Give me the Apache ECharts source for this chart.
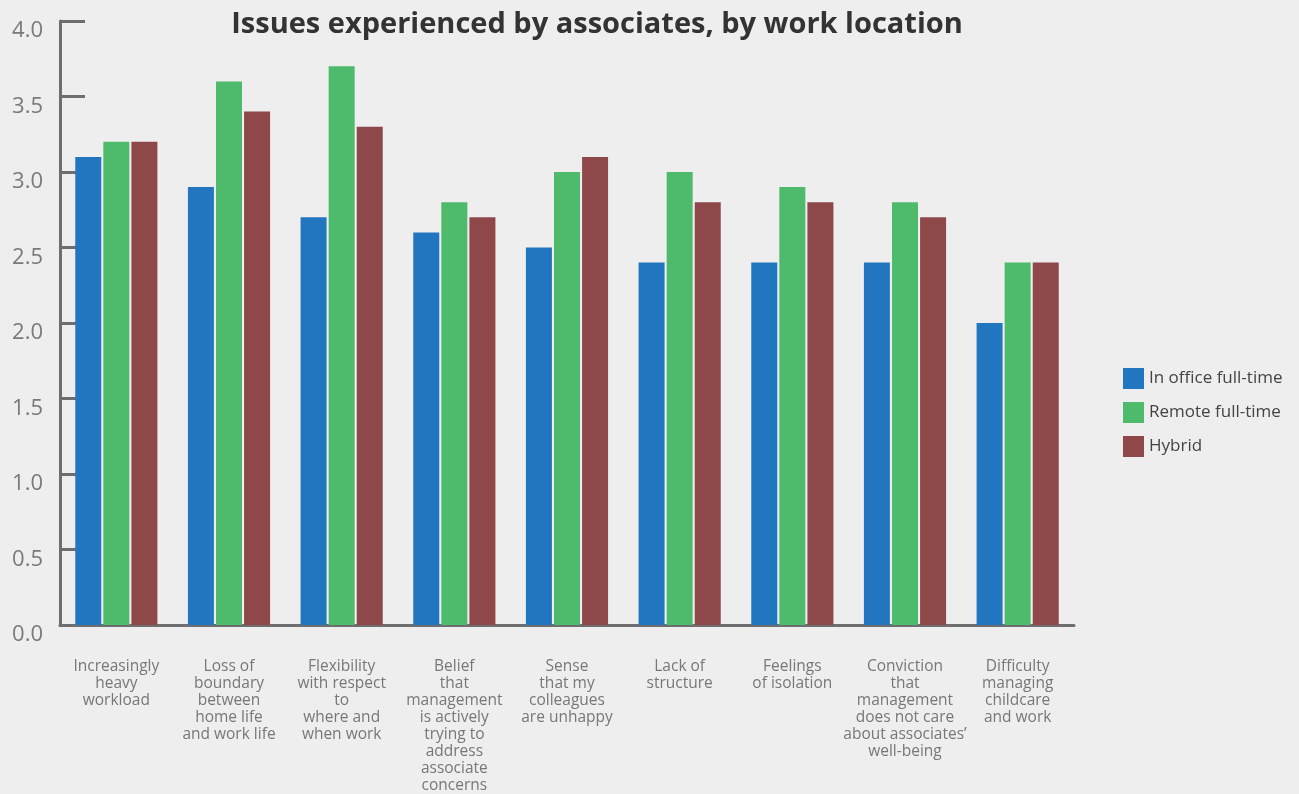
<!DOCTYPE html>
<html>
<head>
<meta charset="utf-8">
<script src="https://cdn.jsdelivr.net/npm/echarts@6/dist/echarts.min.js"></script>
<style>
  html, body { margin: 0; padding: 0; background: #edeeed; }
  #chart { width: 1299px; height: 794px; }
</style>
</head>
<body>
<div id="chart"></div>
<script>
// Issues ranked by associates, grouped by where they work
const categories = [
  'Increasingly\nheavy\nworkload',
  'Loss of\nboundary\nbetween\nhome life\nand work life',
  'Flexibility\nwith respect\nto\nwhere and\nwhen work',
  'Belief\nthat\nmanagement\nis actively\ntrying to\naddress\nassociate\nconcerns',
  'Sense\nthat my\ncolleagues\nare unhappy',
  'Lack of\nstructure',
  'Feelings\nof isolation',
  'Conviction\nthat\nmanagement\ndoes not care\nabout associates’\nwell-being',
  'Difficulty\nmanaging\nchildcare\nand work'
];
const inOffice = [3.1, 2.9, 2.7, 2.6, 2.5, 2.4, 2.4, 2.4, 2.0];
const remote   = [3.2, 3.6, 3.7, 2.8, 3.0, 3.0, 2.9, 2.8, 2.4];
const hybrid   = [3.2, 3.4, 3.3, 2.7, 3.1, 2.8, 2.8, 2.7, 2.4];
const yTicks = { min: 0, max: 4, interval: 0.5 };

const axisGray = '#6e6e71';
const font = '"Open Sans", sans-serif';

const chart = echarts.init(document.getElementById('chart'));
chart.setOption({
  backgroundColor: '#edeeed',
  animation: false,
  title: {
    text: 'Issues experienced by associates, by work location',
    left: 592, top: 5, textAlign: 'center',
    textStyle: { fontFamily: font, fontWeight: 'bold', fontSize: 29, color: '#333333' }
  },
  legend: {
    orient: 'vertical',
    left: 1118, top: 363,
    itemWidth: 21, itemHeight: 21, itemGap: 13,
    icon: 'rect',
    textStyle: { fontFamily: font, fontSize: 17, color: '#444444' }
  },
  grid: { left: 60, right: 225, top: 21, bottom: 165, containLabel: false },
  xAxis: {
    type: 'category',
    data: categories,
    axisLine: { lineStyle: { color: axisGray, width: 3 } },
    axisTick: { inside: true, length: 15, lineStyle: { color: axisGray, width: 3 } },
    axisLabel: {
      interval: 0, margin: 33, lineHeight: 17,
      fontFamily: font, fontSize: 15.5, color: '#777777', align: 'center'
    }
  },
  yAxis: {
    type: 'value',
    min: yTicks.min, max: yTicks.max, interval: yTicks.interval,
    splitLine: { show: false },
    axisLine: { show: true, lineStyle: { color: axisGray, width: 3 } },
    axisTick: { show: true, inside: true, length: 25, lineStyle: { color: axisGray, width: 3 } },
    axisLabel: {
      margin: 17, fontFamily: font, fontSize: 22, color: '#7a7a7a',
      verticalAlign: 'top', lineHeight: 20,
      formatter: v => v.toFixed(1)
    }
  },
  series: [
    { name: 'In office full-time', type: 'bar', data: inOffice, barWidth: 26, barGap: '8%',
      itemStyle: { color: '#2276c0' } },
    { name: 'Remote full-time', type: 'bar', data: remote, barWidth: 26, barGap: '8%',
      itemStyle: { color: '#4dbb6b' } },
    { name: 'Hybrid', type: 'bar', data: hybrid, barWidth: 26, barGap: '8%',
      itemStyle: { color: '#8e484a' } }
  ]
});
</script>
</body>
</html>
